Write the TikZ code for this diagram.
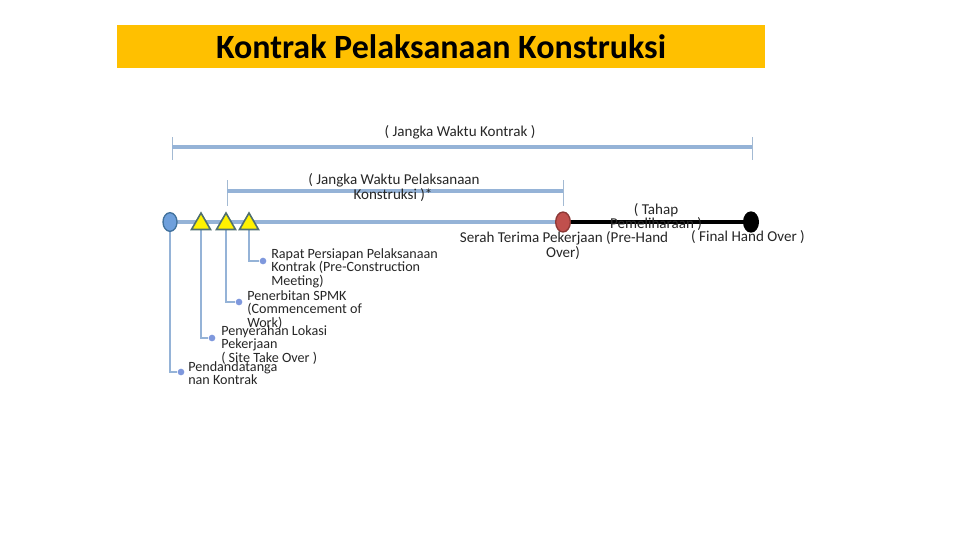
\documentclass[tikz,border=0pt]{standalone}
\usepackage{fontspec}
\setmainfont{Carlito}
\usetikzlibrary{shapes.geometric}
\definecolor{titleyellow}{HTML}{FFC000}
\definecolor{lblue}{HTML}{95B3D7}
\definecolor{tick}{HTML}{A3BAD3}
\definecolor{cblue}{HTML}{6FA0DC}
\definecolor{cbluedark}{HTML}{41719C}
\definecolor{tgreen}{HTML}{4F6F6F}
\definecolor{redfill}{HTML}{C0504D}
\definecolor{reddark}{HTML}{8C3836}
\tikzset{
  lbl/.style={font=\fontsize{11.3}{12}\selectfont, inner sep=0pt, text=black!85},
  lbll/.style={lbl, font=\fontsize{10.6}{10.4}\selectfont, align=left, anchor=north west},
  lblc/.style={lbl, align=center},
  bar/.style={draw=lblue, line width=2.8pt},
  tickline/.style={draw=tick, line width=0.7pt},
  conn/.style={draw=lblue, line width=1.6pt},
  dotn/.style={circle, fill=lblue!85!blue, inner sep=0pt, minimum size=5pt},
  tri/.style={regular polygon, regular polygon sides=3, fill=yellow, draw=tgreen, line width=1.2pt, inner sep=0pt, minimum size=16.5pt},
  ell/.style={ellipse, inner sep=0pt, minimum width=10.5pt, minimum height=14pt, line width=1pt}
}
\begin{document}
\begin{tikzpicture}[x=0.75pt,y=-0.75pt]
\useasboundingbox (0,0) rectangle (960,540);
% title
\node[fill=titleyellow, minimum width=486pt, minimum height=32.25pt, inner sep=0pt,
      font=\fontsize{25.5}{28}\selectfont\bfseries] (title) at (441,46.5) {Kontrak Pelaksanaan Konstruksi};
% top span
\coordinate (kA) at (172,147);
\coordinate (kB) at (752,147);
\draw[tickline] (172,137) -- (172,160);
\draw[tickline] (752,137) -- (752,160);
\draw[bar] (kA) -- (kB);
\node[lblc] (kontrak) at (460,132) {( Jangka Waktu Kontrak )};
% second span
\coordinate (pA) at (227,191);
\coordinate (pB) at (563,191);
\draw[tickline] (227,180) -- (227,206);
\draw[tickline] (563,180) -- (563,206);
\draw[bar] (pA) -- (pB);
\node[lbl] (pel1) at (394,180) {( Jangka Waktu Pelaksanaan};
\node[lbl] (pel2) at (393,195) {Konstruksi )*};
% main line
\coordinate (m0) at (170,222);
\coordinate (m1) at (563,222);
\coordinate (m2) at (751,222);
\draw[draw=lblue, line width=3pt] (m0) -- (m1);
\draw[line width=3pt] (m1) -- (m2);
% connectors (drawn before markers)
\node[dotn] (d0) at (181,372) {};
\node[dotn] (d1) at (212,338) {};
\node[dotn] (d2) at (239,302) {};
\node[dotn] (d3) at (263,261) {};
\draw[conn] (m0) |- (d0);
\draw[conn] (201,224) |- (d1);
\draw[conn] (226,224) |- (d2);
\draw[conn] (249,224) |- (d3);
% markers
\node[ell, fill=cblue, draw=cbluedark] (c0) at (m0) {};
\node[tri] (t1) at (201,224) {};
\node[tri] (t2) at (226,224) {};
\node[tri] (t3) at (249,224) {};
\node[ell, fill=redfill, draw=reddark, minimum width=11pt, minimum height=15pt] (red) at (m1) {};
\node[ell, fill=black, draw=black, minimum width=11pt, minimum height=15pt] (blk) at (m2) {};
% labels
\node[lbll] (l0) at (188,361) {Pendandatanga\\nan Kontrak};
\node[lbll] (l1) at (221,325) {Penyerahan Lokasi\\Pekerjaan\\( Site Take Over )};
\node[lbll] (l2) at (247,290) {Penerbitan SPMK\\(Commencement of\\Work)};
\node[lbll] (l3) at (271,248) {Rapat Persiapan Pelaksanaan\\Kontrak (Pre-Construction\\Meeting)};
\node[lblc] (serah1) at (564,238) {Serah Terima Pekerjaan (Pre-Hand};
\node[lblc] (serah2) at (563,253) {Over)};
\node[lblc] (tahap1) at (656,210) {( Tahap};
\node[lblc] (tahap2) at (656,224) {Pemeliharaan )};
\node[lblc] (final) at (748,237) {( Final Hand Over )};
\end{tikzpicture}
\end{document}
